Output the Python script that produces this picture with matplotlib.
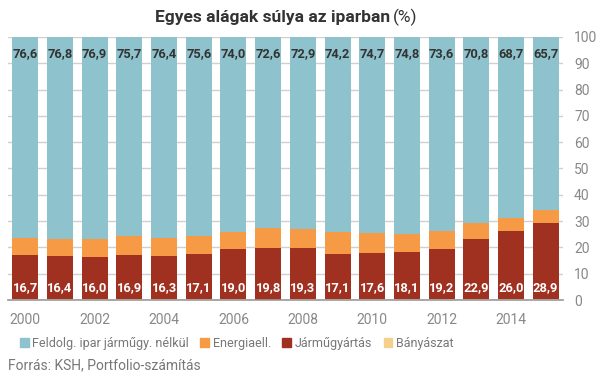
import matplotlib
matplotlib.use("Agg")
import matplotlib.pyplot as plt
import numpy as np
from matplotlib.patches import Patch

years = list(range(2000, 2016))
jarmu = [16.7, 16.4, 16.0, 16.9, 16.3, 17.1, 19.0, 19.8, 19.3, 17.1, 17.6, 18.1, 19.2, 22.9, 26.0, 28.9]
feldolg = [76.6, 76.8, 76.9, 75.7, 76.4, 75.6, 74.0, 72.6, 72.9, 74.2, 74.7, 74.8, 73.6, 70.8, 68.7, 65.7]
banyaszat = [0.3, 0.3, 0.3, 0.3, 0.3, 0.3, 0.3, 0.1, 0.3, 0.3, 0.3, 0.3, 0.3, 0.3, 0.3, 0.3]
energia = [6.4, 6.5, 6.8, 7.1, 7.0, 7.0, 6.7, 7.5, 7.5, 8.4, 7.4, 6.8, 6.9, 6.0, 5.0, 5.1]
series_names = ["Feldolg. ipar járműgy. nélkül", "Energiaell.", "Járműgyártás", "Bányászat"]
xtick_years = [2000, 2002, 2004, 2006, 2008, 2010, 2012, 2014]

c_feld = "#8EC3CD"
c_ener = "#F79A45"
c_jarm = "#A03020"
c_bany = "#F5D08A"

plt.rcParams['font.family'] = ['Roboto', 'DejaVu Sans']

fig = plt.figure(figsize=(6.05, 3.78), dpi=100)
ax = fig.add_axes([8/605, 1 - 300/378, (563 - 8)/605, (300 - 37)/378])

x = np.arange(len(years))
w = 0.75
b = np.array(banyaszat)
j = np.array(jarmu)
e = np.array(energia)
f = np.array(feldolg)

ax.bar(x, b, w, color=c_bany, zorder=3)
ax.bar(x, j, w, bottom=b, color=c_jarm, zorder=3)
ax.bar(x, e, w, bottom=b + j, color=c_ener, zorder=3)
ax.bar(x, f, w, bottom=b + j + e, color=c_feld, zorder=3)

for xi, v in zip(x, jarmu):
    ax.text(xi, 4.8, f"{v:.1f}".replace(".", ","), ha="center", va="center",
            color="white", fontsize=9.3, fontweight="bold", zorder=4)
for xi, v in zip(x, feldolg):
    ax.text(xi, 93.8, f"{v:.1f}".replace(".", ","), ha="center", va="center",
            color="#333333", fontsize=9.3, fontweight="bold", zorder=4)

ax.set_xlim(-0.5, len(years) - 0.5)
ax.set_ylim(0, 100)
ax.set_yticks(range(0, 101, 10))
ax.yaxis.tick_right()
ax.tick_params(axis="y", length=0, pad=8, labelsize=10, labelcolor="#888888")
ax.set_xticks([years.index(y) for y in xtick_years])
ax.set_xticklabels([str(y) for y in xtick_years])
ax.tick_params(axis="x", length=0, pad=9, labelsize=10, labelcolor="#888888")
ax.grid(axis="y", color="#d0d0d0", linewidth=1, zorder=0)
for s in ["top", "left", "right"]:
    ax.spines[s].set_visible(False)
ax.spines["bottom"].set_color("#999999")
ax.spines["bottom"].set_linewidth(1.2)
ax.spines["bottom"].set_zorder(5)

fig.text(390/605, 0.955, "Egyes alágak súlya az iparban", ha="right", va="center",
         fontsize=12.5, fontweight="bold", color="#333333")
fig.text(393/605, 0.955, "(%)", ha="left", va="center", fontsize=12.5, color="#333333")

handles = [Patch(color=c) for c in [c_feld, c_ener, c_jarm, c_bany]]
leg = fig.legend(handles, series_names, loc="center left", bbox_to_anchor=(0.033, 0.092),
                 ncol=4, frameon=False, fontsize=9.0, handlelength=0.7, handleheight=0.7,
                 handletextpad=0.3, columnspacing=0.9, borderaxespad=0, borderpad=0)
for t in leg.get_texts():
    t.set_color("#777777")

fig.text(0.013, 0.033, "Forrás: KSH, Portfolio-számítás", ha="left", va="center",
         fontsize=10, color="#777777")

fig.savefig("out.png", dpi=100)
